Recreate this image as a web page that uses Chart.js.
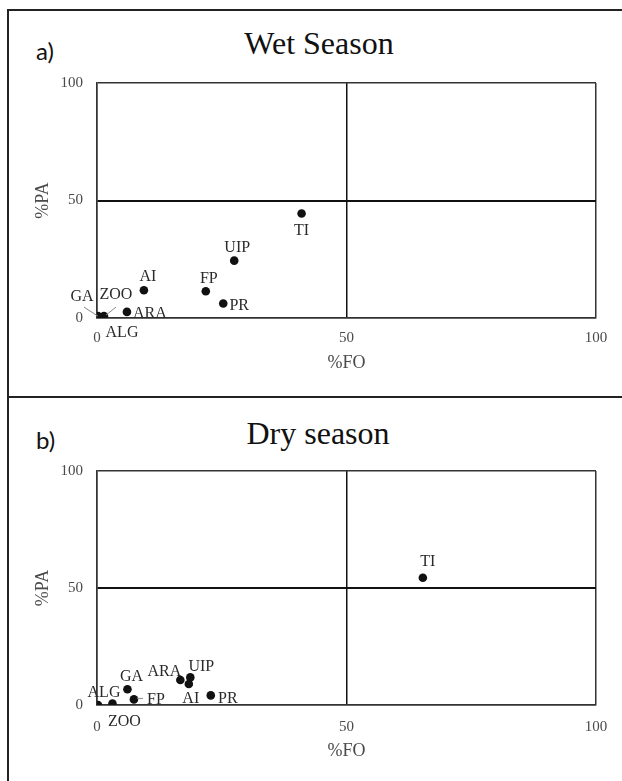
<!DOCTYPE html>
<html>
<head>
<meta charset="utf-8">
<script src="https://cdn.jsdelivr.net/npm/chart.js@4.4.0/dist/chart.umd.min.js"></script>
<style>
  body { margin: 0; background: #fff; width: 622px; height: 781px; overflow: hidden; position: relative; }
  .frame { position: absolute; left: 7px; top: 9px; width: 640px; height: 800px; border-left: 2px solid #222; border-top: 2px solid #222; }
  .divider { position: absolute; left: 7px; top: 396px; width: 640px; height: 2px; background: #222; }
  .tag { position: absolute; font-family: Lato, sans-serif; font-size: 24px; color: #111; }
  .ttl { position: absolute; font-family: "Liberation Serif", serif; font-size: 32px; color: #111; width: 300px; text-align: center; line-height: 32px; }
  canvas { position: absolute; left: 0; }
</style>
</head>
<body>
<div class="frame"></div>
<div class="divider"></div>
<div class="tag" style="left:36px; top:36px;">a)</div>
<div class="ttl" style="left:169px; top:27px;">Wet Season</div>
<div class="tag" style="left:36px; top:425px;">b)</div>
<div class="ttl" style="left:168px; top:417px;">Dry season</div>
<canvas id="wetCanvas" width="622" height="396" style="top:0px"></canvas>
<canvas id="dryCanvas" width="622" height="384" style="top:397px"></canvas>
<script>
// tick values shared by both axes
const axisTicks = [0, 50, 100];

// wet season
const wetLabels = ['TI', 'UIP', 'FP', 'PR', 'AI', 'ARA', 'GA', 'ZOO', 'ALG'];
const wetFO = [41.0, 27.5, 21.8, 25.3, 9.4, 6.0, 0.2, 1.4, 0.8];
const wetPA = [44.5, 24.4, 11.4, 6.2, 11.8, 2.6, 0.8, 0.8, 0.3];

// dry season
const dryLabels = ['TI', 'UIP', 'ARA', 'AI', 'GA', 'FP', 'PR', 'ALG', 'ZOO'];
const dryFO = [65.3, 18.7, 16.7, 18.4, 6.1, 7.4, 22.8, 0.2, 3.1];
const dryPA = [54.4, 11.8, 10.7, 9.0, 6.7, 2.4, 4.1, 0.0, 0.6];

// label placement (pixels from the point), and leader lines
const wetOffsets = {
    TI: [0, 17], UIP: [3, -13], FP: [3, -12], PR: [16, 2], AI: [4, -13],
    ARA: [23, 2], GA: [-16, -19], ZOO: [12, -21], ALG: [21, 16]
};
const wetLeaders = { GA: [-14, -9, 0, 0], ZOO: [12, -9, 2, -1] };
const dryOffsets = {
    TI: [5, -16], UIP: [11, -11], ARA: [-16, -8], AI: [2, 15], GA: [4, -13],
    FP: [22, 0], PR: [17, 3], ALG: [6, -12], ZOO: [12, 18]
};
const dryLeaders = { FP: [3, -1, 9, -1] };

const serif = "'Liberation Serif', 'Times New Roman', serif";

const pointLabels = {
    id: 'pointLabels',
    afterDatasetsDraw(chart, args, opts) {
        const ctx = chart.ctx;
        const meta = chart.getDatasetMeta(0);
        ctx.save();
        ctx.font = '16px ' + serif;
        ctx.fillStyle = '#2a2a2a';
        ctx.textAlign = 'center';
        ctx.textBaseline = 'middle';
        meta.data.forEach((pt, i) => {
            const name = opts.names[i];
            const off = opts.offsets[name] || [0, -14];
            const lead = opts.leaders[name];
            if (lead) {
                ctx.strokeStyle = '#888';
                ctx.lineWidth = 1;
                ctx.beginPath();
                ctx.moveTo(pt.x + lead[0], pt.y + lead[1]);
                ctx.lineTo(pt.x + lead[2], pt.y + lead[3]);
                ctx.stroke();
            }
            ctx.fillText(name, pt.x + off[0], pt.y + off[1]);
        });
        ctx.restore();
    }
};

function makeChart(id, names, fo, pa, offsets, leaders, frame) {
    const canvas = document.getElementById(id);
    const lineW = (ctx, horizontal) => {
        if (ctx.tick && ctx.tick.value === 50) return horizontal ? 2 : 1.5;
        return 1.5;
    };
    return new Chart(canvas, {
        type: 'scatter',
        data: {
            datasets: [{
                data: fo.map((x, i) => ({ x: x, y: pa[i] })),
                pointRadius: 4.3,
                pointBackgroundColor: '#111',
                pointBorderColor: '#111',
                pointBorderWidth: 0
            }]
        },
        options: {
            responsive: false,
            animation: false,
            devicePixelRatio: 1,
            layout: { padding: { top: frame.top, right: 26, bottom: 0, left: 0 } },
            plugins: {
                legend: { display: false },
                tooltip: { enabled: false },
                pointLabels: { names: names, offsets: offsets, leaders: leaders }
            },
            scales: {
                x: {
                    type: 'linear', min: 0, max: 100,
                    afterBuildTicks: s => { s.ticks = axisTicks.map(v => ({ value: v })); },
                    afterFit: s => { s.height = frame.xh; },
                    grid: { color: ctx => ctx.tick && ctx.tick.value === 50 ? '#111' : '#333', lineWidth: ctx => lineW(ctx, false), drawTicks: false },
                    border: { display: true, color: '#333', width: 1.5 },
                    ticks: { padding: frame.xpad, color: '#4a4a4a', font: { family: serif, size: 15 }, maxRotation: 0 },
                    title: { display: true, text: '%FO', color: '#4a4a4a', font: { family: serif, size: 18 }, padding: { top: 0, bottom: frame.xtitle } }
                },
                y: {
                    type: 'linear', min: 0, max: 100,
                    afterBuildTicks: s => { s.ticks = axisTicks.map(v => ({ value: v })); },
                    afterFit: s => { s.width = 97; },
                    grid: { color: ctx => ctx.tick && ctx.tick.value === 50 ? '#111' : '#333', lineWidth: ctx => lineW(ctx, true), drawTicks: false },
                    border: { display: true, color: '#333', width: 1.5 },
                    ticks: { padding: 14, color: '#4a4a4a', font: { family: serif, size: 15 } },
                    title: { display: true, text: '%PA', color: '#4a4a4a', font: { family: serif, size: 18 }, padding: { top: 32, bottom: 0 } }
                }
            }
        },
        plugins: [pointLabels]
    });
}

makeChart('wetCanvas', wetLabels, wetFO, wetPA, wetOffsets, wetLeaders, { top: 83, xh: 78, xpad: 11, xtitle: 22.2 });
makeChart('dryCanvas', dryLabels, dryFO, dryPA, dryOffsets, dryLeaders, { top: 74, xh: 76, xpad: 12.7, xtitle: 18.5 });
</script>
</body>
</html>
